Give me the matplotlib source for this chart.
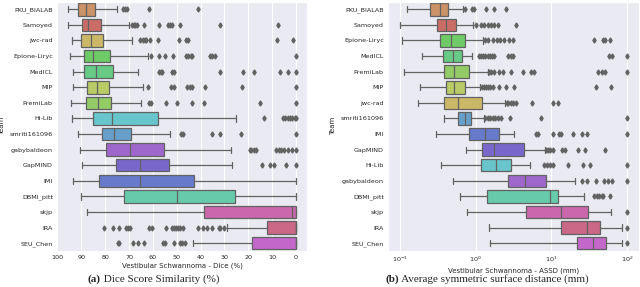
import matplotlib
matplotlib.use('Agg')
import matplotlib.pyplot as plt
import seaborn as sns

sns.set_style('darkgrid')
plt.rcParams['font.family'] = ['DejaVu Sans']

# ---------------- Dice panel data ----------------
dice_teams = ['PKU_BIALAB', 'Samoyed', 'jwc-rad', 'Epione-Liryc', 'MedICL', 'MIP',
              'PremiLab', 'Hi-Lib', 'smriti161096', 'gabybaldeon', 'GapMIND', 'IMI',
              'DBMI_pitt', 'skjp', 'IRA', 'SEU_Chen']
dice_whislo = [95.7, 95.4, 94.1, 94.8, 93.7, 93.4, 94.3, 94.0, 91.6, 90.5, 89.7, 93.4, 90.1, 87.6, 29.0, 43.2]
dice_q1 = [91.6, 89.9, 90.3, 88.8, 88.8, 87.8, 88.1, 85.3, 81.4, 79.6, 75.5, 82.4, 72.0, 38.7, 12.2, 18.5]
dice_med = [88.1, 87.0, 85.9, 85.2, 83.8, 83.5, 83.2, 77.3, 76.5, 69.5, 65.3, 65.2, 49.9, 1.7, 0.0, 0.0]
dice_q3 = [84.2, 81.8, 81.1, 77.8, 76.8, 78.3, 77.6, 58.0, 69.2, 55.5, 53.4, 42.7, 25.6, 0.0, 0.0, 0.0]
dice_whishi = [75.2, 70.2, 68.8, 62.1, 66.2, 64.2, 64.9, 25.0, 52.7, 27.4, 27.0, 0.0, 0.0, 0.0, 0.0, 0.0]
dice_fliers = [
    [72.7, 71.9, 70.9, 61.8, 41.3],
    [68.8, 68.1, 67.4, 66.7, 63.6, 57.3, 53.8, 53.0, 52.0, 48.5, 31.7, 7.6],
    [65.3, 64.3, 63.5, 62.9, 61.3, 58.0, 49.2, 46.0, 45.3, 8.1, 1.4],
    [60.8, 57.3, 54.8, 51.6, 46.3, 45.3, 44.2, 43.6, 36.2, 35.2, 33.8, 0.1],
    [57.5, 56.6, 56.1, 52.2, 51.3, 31.9, 22.1, 17.8, 6.7, 3.5, 0.0],
    [62.0, 52.3, 51.3, 45.5, 44.6, 43.6, 38.2, 22.5, 0.0],
    [61.7, 60.7, 54.4, 49.7, 43.5, 38.7, 15.0, 0.0],
    [13.3, 5.5, 4.5, 3.5, 2.5, 1.5, 0.5, 0.0],
    [48.4, 47.4, 35.1, 31.7, 23.1, 0.0],
    [19.4, 18.7, 17.8, 16.8, 8.4, 7.3, 6.3, 5.2, 3.5, 1.7, 0.0],
    [14.4, 11.0, 9.4, 4.3, 0.0],
    [],
    [],
    [],
    [80.3, 76.8, 74.4, 71.3, 70.5, 69.8, 61.8, 60.4, 54.5, 52.0, 51.0, 50.3, 49.6,
     48.7, 47.4, 41.3, 39.2, 37.3, 35.1, 32.4, 31.7, 30.1],
    [74.8, 74.1, 68.5, 66.4, 63.9, 55.8, 55.1, 51.2, 48.8, 47.7, 46.7],
]

# ---------------- ASSD panel data ----------------
assd_teams = ['PKU_BIALAB', 'Samoyed', 'Epione-Liryc', 'MedICL', 'PremiLab', 'MIP',
              'jwc-rad', 'smriti161096', 'IMI', 'GapMIND', 'Hi-Lib', 'gabybaldeon',
              'DBMI_pitt', 'skjp', 'IRA', 'SEU_Chen']
assd_whislo = [0.123, 0.100, 0.107, 0.196, 0.112, 0.183, 0.174, 0.375, 0.300, 0.731, 0.342, 0.507, 0.609, 0.761, 1.50, 1.53]
assd_q1 = [0.25, 0.303, 0.339, 0.371, 0.382, 0.398, 0.382, 0.585, 0.817, 1.20, 1.16, 2.64, 1.40, 4.57, 13.5, 21.9]
assd_med = [0.339, 0.402, 0.468, 0.507, 0.518, 0.518, 0.585, 0.716, 1.34, 1.73, 1.87, 4.43, 9.55, 13.2, 29.7, 35.6]
assd_q3 = [0.423, 0.55, 0.716, 0.66, 0.824, 0.716, 1.22, 0.877, 2.05, 4.30, 2.95, 8.55, 12.4, 30.3, 43.6, 53.4]
assd_whishi = [0.687, 0.92, 1.26, 0.904, 1.47, 1.13, 2.44, 1.27, 3.20, 8.21, 5.20, 20.8, 26.8, 61.5, 85.9, 85.9]
assd_fliers = [
    [0.716, 0.904, 0.96, 1.355, 1.76, 2.54],
    [1.0, 1.16, 1.29, 1.43, 1.58, 1.75, 1.99, 3.44],
    [1.31, 1.43, 1.68, 1.93, 2.09, 2.36, 2.78, 3.14, 36.3, 48.3, 51.8, 60.3],
    [1.10, 1.16, 1.24, 1.33, 1.43, 1.53, 1.63, 1.75, 2.70, 2.90, 3.14, 57.3, 63.4, 100.0],
    [1.51, 1.61, 1.75, 2.01, 2.32, 2.89, 4.25, 5.31, 5.88, 41.0, 46.8, 51.8, 100.0],
    [1.19, 1.29, 1.37, 1.45, 1.56, 1.71, 2.03, 2.51, 3.20, 39.4, 61.5],
    [2.56, 2.70, 2.89, 3.10, 3.36, 5.47, 10.4, 12.2],
    [1.31, 1.43, 1.54, 1.68, 1.82, 1.97, 2.14, 2.81, 7.27, 100.0],
    [6.31, 6.7, 10.5, 12.6, 13.5, 19.2, 25.5, 29.7, 100.0],
    [8.6, 9.1, 9.7, 10.4, 13.9, 14.9, 22.6, 27.7, 51.3],
    [8.1, 8.8, 9.6, 10.5, 16.7, 26.0, 32.8, 100.0],
    [25.5, 29.7, 39.0, 49.2, 55.6, 63.4, 100.0],
    [37.0, 40.0, 43.0, 46.0, 48.0, 59.1],
    [100.0],
    [100.0],
    [100.0],
]

# colour per team (hls palette order)
hue_order = ['Samoyed', 'PKU_BIALAB', 'jwc-rad', 'MIP', 'PremiLab', 'Epione-Liryc',
             'MedICL', 'DBMI_pitt', 'Hi-Lib', 'smriti161096', 'IMI', 'GapMIND',
             'gabybaldeon', 'SEU_Chen', 'skjp', 'IRA']
pal = sns.color_palette('hls', len(hue_order))
team_color = {t: sns.desaturate(c, 0.75) for t, c in zip(hue_order, pal)}

GRAY = '#626262'
LW = 0.9
TICK_FS = 4.6
LABEL_FS = 5.0


def draw(ax, teams, wlo, q1, med, q3, whi, fliers):
    stats = []
    for i, t in enumerate(teams):
        stats.append(dict(label=t, whislo=wlo[i], q1=q1[i], med=med[i], q3=q3[i],
                          whishi=whi[i], fliers=fliers[i]))
    pos = list(range(len(teams)))
    bp = ax.bxp(stats, positions=pos, orientation='horizontal', widths=0.8,
                patch_artist=True, showfliers=True,
                boxprops=dict(edgecolor=GRAY, linewidth=LW),
                medianprops=dict(color=GRAY, linewidth=LW),
                whiskerprops=dict(color=GRAY, linewidth=LW),
                capprops=dict(color=GRAY, linewidth=LW),
                flierprops=dict(marker='d', markerfacecolor=GRAY, markeredgecolor=GRAY,
                                markersize=2.6, linestyle='none'))
    for patch, t in zip(bp['boxes'], teams):
        patch.set_facecolor(team_color[t])
    ax.set_yticks(pos)
    ax.set_yticklabels(teams)
    ax.set_ylim(len(teams) - 0.5, -0.5)
    ax.yaxis.grid(False)
    ax.tick_params(axis='both', labelsize=TICK_FS, pad=3, length=0)
    ax.set_ylabel('Team', fontsize=LABEL_FS, labelpad=3)


fig = plt.figure(figsize=(6.4, 2.87), dpi=100)
ax1 = fig.add_axes([57 / 640, 1 - 251 / 287, 250 / 640, 249.5 / 287])
ax2 = fig.add_axes([388 / 640, 1 - 251 / 287, 251 / 640, 249.5 / 287])

draw(ax1, dice_teams, dice_whislo, dice_q1, dice_med, dice_q3, dice_whishi, dice_fliers)
ax1.set_xlim(100.2, -4.6)
ax1.set_xticks(list(range(100, -1, -10)))
ax1.set_xlabel('Vestibular Schwannoma - Dice (%)', fontsize=LABEL_FS, labelpad=2)

draw(ax2, assd_teams, assd_whislo, assd_q1, assd_med, assd_q3, assd_whishi, assd_fliers)
ax2.set_xscale('log')
ax2.set_xlim(0.069, 144)
ax2.grid(which='minor', visible=False)
ax2.tick_params(which='minor', length=0)
ax2.set_xlabel('Vestibular Schwannoma - ASSD (mm)', fontsize=LABEL_FS, labelpad=2)
ax2.yaxis.grid(False)

# captions
cap_fam = ['Liberation Serif', 'DejaVu Serif']
y_cap = 0.012
t1 = fig.text(88 / 640, y_cap, '(a)', fontsize=8, fontweight='bold', family=cap_fam,
              ha='left', va='bottom')
ax1.annotate(' Dice Score Similarity (%)', xy=(1, 0), xycoords=t1, fontsize=8,
             family=cap_fam, ha='left', va='bottom', annotation_clip=False)
t2 = fig.text(385 / 640, y_cap, '(b)', fontsize=8, fontweight='bold', family=cap_fam,
              ha='left', va='bottom')
ax2.annotate(' Average symmetric surface distance (mm)', xy=(1, 0), xycoords=t2,
             fontsize=8, family=cap_fam, ha='left', va='bottom', annotation_clip=False)

fig.savefig('out.png', dpi=100)
